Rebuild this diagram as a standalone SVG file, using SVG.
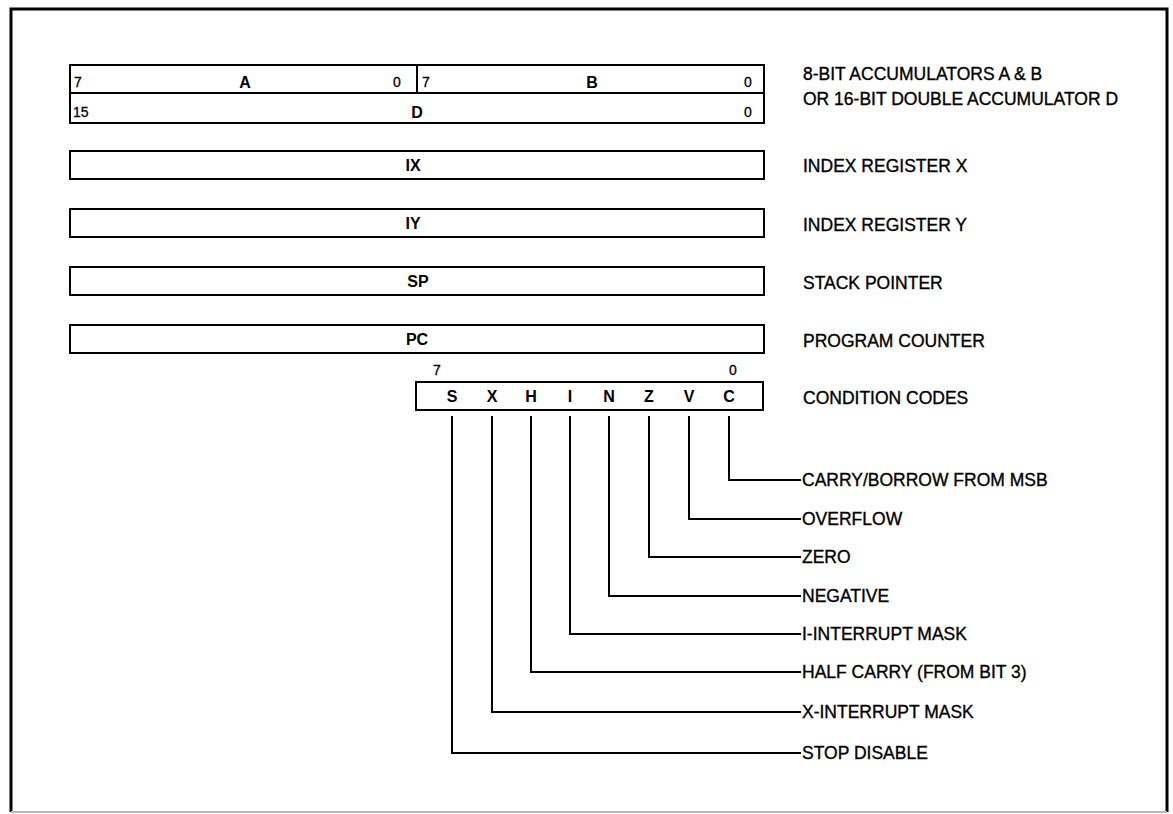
<svg xmlns="http://www.w3.org/2000/svg" width="1173" height="814" viewBox="0 0 1173 814">
<style>
.box{fill:#fff;stroke:#000;stroke-width:2}
.lbl{font-family:"Liberation Sans",Arial,sans-serif;font-size:17.5px;fill:#000;stroke:#000;stroke-width:0.35}
.reg{font-family:"Liberation Sans",Arial,sans-serif;font-size:16px;font-weight:bold;fill:#000;text-anchor:middle}
.num{font-family:"Liberation Sans",Arial,sans-serif;font-size:14px;fill:#000;stroke:#000;stroke-width:0.3}
.cc{font-family:"Liberation Sans",Arial,sans-serif;font-size:16px;font-weight:bold;fill:#000;text-anchor:middle}
.ln{fill:none;stroke:#000;stroke-width:2}
</style>
<rect width="1173" height="814" fill="#fff"/>
<g id="frame">
<path d="M11,812 L11,9 L1167,9 L1167,812" fill="none" stroke="#000" stroke-width="3"/>
<line x1="11" y1="812" x2="1167" y2="812" stroke="#bbb" stroke-width="2"/>
</g>
<g id="accAB">
<rect class="box" x="70" y="65" width="694" height="28"/>
<line x1="417" y1="65" x2="417" y2="93" stroke="#000" stroke-width="2"/>
<text class="num" x="74" y="87">7</text>
<text class="reg" x="245" y="88">A</text>
<text class="num" x="393" y="87">0</text>
<text class="num" x="422" y="87">7</text>
<text class="reg" x="592" y="88">B</text>
<text class="num" x="744" y="87">0</text>
<text class="lbl" x="803" y="80">8-BIT ACCUMULATORS A &amp; B</text>
</g>
<g id="accD">
<rect class="box" x="70" y="93" width="694" height="30"/>
<text class="num" x="73" y="117">15</text>
<text class="reg" x="417" y="118">D</text>
<text class="num" x="744" y="117">0</text>
<text class="lbl" x="803" y="105">OR 16-BIT DOUBLE ACCUMULATOR D</text>
</g>
<g id="ix">
<rect class="box" x="70" y="151" width="694" height="28"/>
<text class="reg" x="413" y="171">IX</text>
<text class="lbl" x="803" y="172">INDEX REGISTER X</text>
</g>
<g id="iy">
<rect class="box" x="70" y="209" width="694" height="28"/>
<text class="reg" x="413" y="229">IY</text>
<text class="lbl" x="803" y="231">INDEX REGISTER Y</text>
</g>
<g id="sp">
<rect class="box" x="70" y="267" width="694" height="28"/>
<text class="reg" x="418" y="287">SP</text>
<text class="lbl" x="803" y="289">STACK POINTER</text>
</g>
<g id="pc">
<rect class="box" x="70" y="325" width="694" height="28"/>
<text class="reg" x="417" y="345">PC</text>
<text class="lbl" x="803" y="347">PROGRAM COUNTER</text>
</g>
<g id="ccr">
<text class="num" x="433" y="375">7</text>
<text class="num" x="729" y="375">0</text>
<rect class="box" x="416" y="382" width="347" height="28"/>
<text class="cc" x="452" y="402">S</text>
<text class="cc" x="492" y="402">X</text>
<text class="cc" x="531" y="402">H</text>
<text class="cc" x="570" y="402">I</text>
<text class="cc" x="609" y="402">N</text>
<text class="cc" x="649" y="402">Z</text>
<text class="cc" x="689" y="402">V</text>
<text class="cc" x="729" y="402">C</text>
<text class="lbl" x="803" y="404">CONDITION CODES</text>
</g>
<g id="connectors">
<path class="ln" d="M729,416 V480 H801"/>
<path class="ln" d="M689,416 V519 H801"/>
<path class="ln" d="M649,416 V557 H801"/>
<path class="ln" d="M609,416 V596 H801"/>
<path class="ln" d="M570,416 V634 H801"/>
<path class="ln" d="M531,416 V672 H801"/>
<path class="ln" d="M492,416 V712 H801"/>
<path class="ln" d="M452,416 V753 H801"/>
</g>
<g id="flag-labels">
<text class="lbl" x="802" y="486">CARRY/BORROW FROM MSB</text>
<text class="lbl" x="802" y="525">OVERFLOW</text>
<text class="lbl" x="802" y="563">ZERO</text>
<text class="lbl" x="802" y="602">NEGATIVE</text>
<text class="lbl" x="802" y="640">I-INTERRUPT MASK</text>
<text class="lbl" x="802" y="678">HALF CARRY (FROM BIT 3)</text>
<text class="lbl" x="802" y="718">X-INTERRUPT MASK</text>
<text class="lbl" x="802" y="759">STOP DISABLE</text>
</g>
</svg>
